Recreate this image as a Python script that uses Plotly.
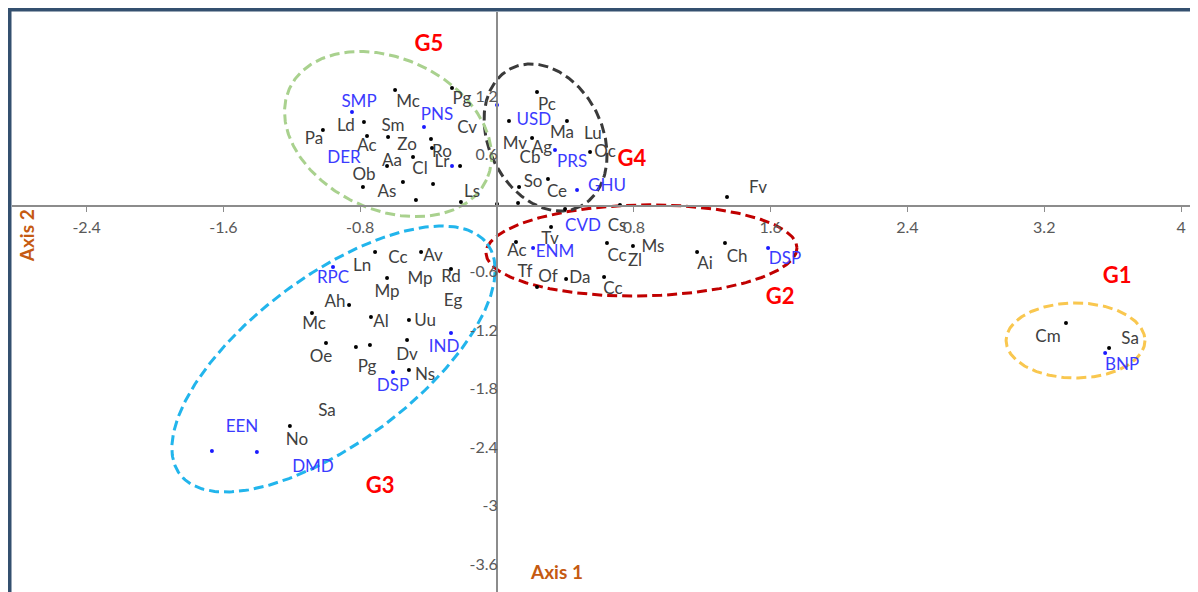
import numpy as np
import plotly.graph_objects as go

# ---------------- data ----------------
# black observation points (Axis 1, Axis 2)
black_x = [-0.596, -0.263, -0.778, -1.018, -0.760, -0.637, -0.386, -0.380, -0.491, -0.643,
           -0.216, -0.550, -0.374, -0.784, -0.474, -0.211,
           0.234, 0.070, 0.409, 0.205, 0.544, 0.129, 0.298,
           0.000, 0.123, 0.398, 0.719, 1.345,
           0.316, 0.111, 0.643, 0.795, 1.170, 1.333, 0.234, 0.404, 0.626,
           -0.713, -0.444, -0.643, -0.269, -0.865, -1.082, -0.737, -0.515, -1.000,
           -0.825, -0.743, -0.526, -0.515, -1.211,
           3.327, 3.579]
black_y = [1.190, 1.210, 0.862, 0.779, 0.718, 0.708, 0.687, 0.595, 0.503, 0.410,
           0.410, 0.246, 0.226, 0.195, 0.062, 0.041,
           1.169, 0.872, 0.872, 0.697, 0.554, 0.195, 0.277,
           0.020, 0.030, -0.030, 0.010, 0.092,
           -0.215, -0.369, -0.379, -0.410, -0.472, -0.379, -0.831, -0.749, -0.728,
           -0.472, -0.472, -0.738, -0.646, -1.015, -1.097, -1.138, -1.169, -1.405,
           -1.446, -1.426, -1.374, -1.682, -2.256,
           -1.200, -1.456]

# blue (supplementary) points
blue_x = [-0.848, -0.427, -0.263, 0.000, 0.339, 0.468, 0.211, 1.585,
          -0.959, -0.269, -0.608, -1.667, -1.404, 3.556]
blue_y = [0.964, 0.810, 0.410, 1.036, 0.574, 0.164, -0.431, -0.431,
          -0.626, -1.303, -1.703, -2.513, -2.523, -1.508]

# black point labels
black_labels = ["Mc", "Pg", "Ld", "Sm", "Cv", "Pa", "Ac", "Zo", "Ro", "Aa", "Lr", "Cl", "Ob", "As", "Ls",
                "Pc", "Ma", "Lu", "Mv", "Ag", "Cb", "Oc", "So", "Ce", "Fv",
                "Cs", "Tv", "Ac", "Cc", "Zl", "Ms", "Ai", "Ch", "Tf", "Of", "Da", "Cc",
                "Ln", "Cc", "Av", "Mp", "Mp", "Rd", "Eg", "Ah", "Mc", "Al", "Uu", "Oe", "Dv",
                "Pg", "Ns", "Sa", "No",
                "Cm", "Sa"]
black_label_x = [-0.520, -0.205, -0.883, -0.608, -0.175, -1.070, -0.760, -0.526, -0.322, -0.614,
                 -0.322, -0.450, -0.778, -0.643, -0.146,
                 0.292, 0.380, 0.561, 0.105, 0.263, 0.193, 0.632, 0.211, 0.351, 1.526,
                 0.702, 0.310, 0.117, 0.702, 0.807, 0.912, 1.216, 1.404, 0.164, 0.298, 0.485, 0.678,
                 -0.789, -0.579, -0.374, -0.643, -0.450, -0.269, -0.257, -0.947, -1.070, -0.678,
                 -0.421, -1.029, -0.526, -0.760, -0.421, -0.994, -1.170,
                 3.222, 3.702]
black_label_y = [1.056, 1.087, 0.810, 0.810, 0.790, 0.677, 0.605, 0.615, 0.544, 0.451,
                 0.441, 0.369, 0.308, 0.133, 0.133,
                 1.026, 0.738, 0.728, 0.626, 0.585, 0.482, 0.544, 0.236, 0.133, 0.174,
                 -0.215, -0.349, -0.472, -0.523, -0.574, -0.431, -0.605, -0.533, -0.687, -0.738,
                 -0.749, -0.862,
                 -0.626, -0.544, -0.523, -0.892, -0.759, -0.738, -0.985, -0.995, -1.221, -1.200,
                 -1.190, -1.559, -1.538, -1.662, -1.744, -2.113, -2.410,
                 -1.354, -1.374]

# blue point labels
blue_labels = ["SMP", "PNS", "DER", "USD", "PRS", "GHU", "CVD", "ENM", "DSP",
               "RPC", "IND", "DSP", "EEN", "DMD", "BNP"]
blue_label_x = [-0.807, -0.351, -0.895, 0.216, 0.439, 0.643, 0.503, 0.339, 1.684,
                -0.959, -0.310, -0.608, -1.491, -1.076, 3.655]
blue_label_y = [1.056, 0.923, 0.482, 0.872, 0.441, 0.195, -0.215, -0.482, -0.554,
                -0.749, -1.456, -1.856, -2.277, -2.687, -1.641]

# groups: label position and ellipse (centre + two conjugate half-axis vectors)
group_names = ["G1", "G2", "G3", "G4", "G5"]
group_label_x = [3.626, 1.655, -0.684, 0.789, -0.398]
group_label_y = [-0.738, -0.944, -2.882, 0.472, 1.651]
ell_cx = [3.383, 0.845, -0.956, 0.284, -0.637]
ell_cy = [-1.379, -0.456, -1.569, 0.703, 0.738]
ell_ux = [0.406, 0.909, 0.899, 0.2035, 0.576]
ell_uy = [0.000, 0.028, 1.181, -0.707, -0.469]
ell_vx = [0.000, 0.005, 0.292, -0.2966, -0.1865]
ell_vy = [-0.385, -0.467, -0.683, -0.2628, -0.705]
ell_colors = ["#f9c74f", "#c00000", "#22b5ec", "#3a3a3a", "#a9d18e"]

x_ticks = [-2.4, -1.6, -0.8, 0.8, 1.6, 2.4, 3.2, 4]
x_tick_text = ["-2.4", "-1.6", "-0.8", "0.8", "1.6", "2.4", "3.2", "4"]
y_ticks = [1.2, 0.6, -0.6, -1.2, -1.8, -2.4, -3, -3.6]
y_tick_text = ["1.2", "0.6", "-0.6", "-1.2", "-1.8", "-2.4", "-3", "-3.6"]

X_RANGE = [-2.836, 4.099]
Y_RANGE = [-3.959, 1.990]

FONT = "Lato, Carlito, Calibri, sans-serif"

# ---------------- figure ----------------
fig = go.Figure()

t = np.linspace(0, 2 * np.pi, 300)
for i, name in enumerate(group_names):
    ex = ell_cx[i] + ell_ux[i] * np.cos(t) + ell_vx[i] * np.sin(t)
    ey = ell_cy[i] + ell_uy[i] * np.cos(t) + ell_vy[i] * np.sin(t)
    fig.add_trace(go.Scatter(x=ex, y=ey, mode="lines", name=name,
                             line=dict(color=ell_colors[i], width=3, dash="10px,5px"),
                             hoverinfo="skip", showlegend=False))

fig.add_trace(go.Scatter(x=black_x, y=black_y, mode="markers",
                         marker=dict(color="#000000", size=4), showlegend=False))
fig.add_trace(go.Scatter(x=blue_x, y=blue_y, mode="markers",
                         marker=dict(color="#1a1aff", size=4), showlegend=False))

fig.add_trace(go.Scatter(x=black_label_x, y=black_label_y, mode="text", text=black_labels,
                         textposition="middle center",
                         textfont=dict(family=FONT, size=17, color="#404040"),
                         showlegend=False))
fig.add_trace(go.Scatter(x=blue_label_x, y=blue_label_y, mode="text", text=blue_labels,
                         textposition="middle center",
                         textfont=dict(family=FONT, size=17, color="#3b3bff"),
                         showlegend=False))
fig.add_trace(go.Scatter(x=group_label_x, y=group_label_y, mode="text", text=group_names,
                         textposition="middle center",
                         textfont=dict(family=FONT, size=22, color="#ff0000", weight="bold"),
                         showlegend=False))

y_zero_pos = (0 - Y_RANGE[0]) / (Y_RANGE[1] - Y_RANGE[0])
x_zero_pos = (0 - X_RANGE[0]) / (X_RANGE[1] - X_RANGE[0])

# the page body adds an 8px offset, so the figure is sized/margined to compensate
fig.update_layout(
    width=1190, height=584,
    margin=dict(l=4, r=0, t=4, b=0, autoexpand=False),
    paper_bgcolor="white", plot_bgcolor="white",
    font=dict(family=FONT, color="#595959"),
    xaxis=dict(range=X_RANGE, anchor="free", position=y_zero_pos, side="bottom",
               tickmode="array", tickvals=x_ticks, ticktext=x_tick_text,
               showgrid=False, zeroline=False, showline=True, linecolor="#8c8c8c", linewidth=2,
               ticks="outside", ticklen=5, tickcolor="#8c8c8c", tickwidth=1,
               ticklabelstandoff=2,
               tickfont=dict(family=FONT, size=16, color="#595959")),
    yaxis=dict(range=Y_RANGE, anchor="free", position=x_zero_pos, side="left",
               tickmode="array", tickvals=y_ticks, ticktext=y_tick_text,
               showgrid=False, zeroline=False, showline=True, linecolor="#8c8c8c", linewidth=2,
               ticks="", ticklabelshift=7, ticklabelstandoff=-5,
               tickfont=dict(family=FONT, size=16, color="#595959")),
    shapes=[
        dict(type="line", xref="paper", yref="paper", x0=-0.0021, x1=-0.0021, y0=-0.02, y1=1.0043,
             line=dict(color="#34506f", width=4)),
        dict(type="line", xref="paper", yref="paper", x0=-0.0038, x1=1.01, y0=1.0043, y1=1.0043,
             line=dict(color="#34506f", width=4)),
    ],
    annotations=[
        dict(text="<b>Axis 1</b>", x=0.348, y=-3.75, xref="x", yref="y", showarrow=False,
             font=dict(family=FONT, size=19, color="#c55a11")),
        dict(text="<b>Axis 2</b>", x=0.0118, y=-0.3, xref="paper", yref="y", showarrow=False,
             xanchor="center", yanchor="middle",
             textangle=-90, font=dict(family=FONT, size=19, color="#c55a11")),
    ],
)

fig.write_html("out.html")
